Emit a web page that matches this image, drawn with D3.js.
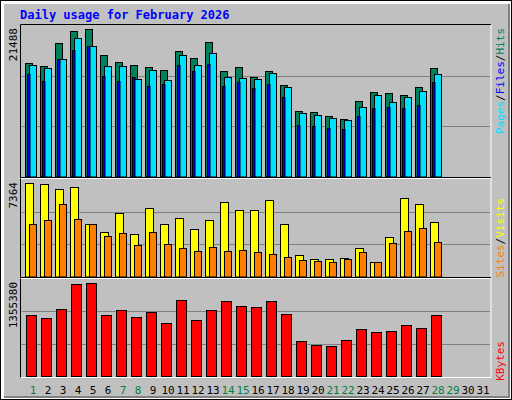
<!DOCTYPE html>
<html><head><meta charset="utf-8">
<script src="https://cdn.jsdelivr.net/npm/d3@7"></script>
<style>body{margin:0;background:#fff}text{font-family:"DejaVu Sans Mono",monospace}</style>
</head><body><div id="chart"></div>
<script>
const days = d3.range(1, 32);
const weekend = [1, 7, 8, 14, 15, 21, 22, 28, 29];
const hits = [16533,16096,19450,21199,21488,17700,16679,16242,15950,15513,18283,17262,19595,15367,15950,14493,15411,13326,9535,9390,8806,8369,10993,12305,12160,11868,13034,15804];
const files = [16242,15804,17117,20178,19012,16096,16096,14201,15513,14055,17700,16242,17991,14493,14347,14201,15076,13034,9244,8952,8515,8223,10118,11868,10847,11577,12451,14930];
const pages = [14930,13909,17117,18429,19012,14638,13909,14493,13180,13472,16242,15367,16388,13180,13763,12889,13472,11577,7494,7348,7057,6911,8806,9973,10118,9973,10410,13763];
const visits = [7364,7284,6886,7045,4096,3539,4973,3379,5372,4096,4575,3778,4415,5850,5212,5236,6057,4144,1674,1355,1355,1435,2232,1116,3108,6216,5738,4304];
const sites = [4171,4411,5687,4490,4171,3214,3453,2496,3533,2576,2257,2018,2337,2018,2098,1938,1779,1539,1300,1220,1140,1380,1938,1140,2656,3613,3852,2736];
const kbytes = [882426,838083,971112,1340637,1355380,882426,956331,852864,926769,778959,1104141,823302,956331,1089360,1015455,1000674,1089360,897207,512901,453777,438996,527682,690273,645930,660711,749397,705054,882426];

const W = 512, H = 400;
const svg = d3.select("#chart").append("svg").attr("width", W).attr("height", H);

// frame
svg.append("rect").attr("width", W).attr("height", H).attr("fill", "#000");
svg.append("rect").attr("x", 1).attr("y", 1).attr("width", W - 2).attr("height", H - 2).attr("fill", "#fff");
svg.append("rect").attr("x", 4).attr("y", 4).attr("width", W - 6).attr("height", H - 6).attr("fill", "#808080");
svg.append("rect").attr("x", 4).attr("y", 4).attr("width", W - 8).attr("height", H - 8).attr("fill", "#c0c0c0");

svg.append("text").attr("x", 20).attr("y", 19)
  .attr("font-size", 12).attr("font-weight", "bold").attr("fill", "#0000ff")
  .text("Daily usage for February 2026");

const x = d3.scaleBand().domain(days).range([23, 488]);

// plot outline
const L = 20.5, R = 491;
svg.append("rect").attr("x", L).attr("y", 24.5).attr("width", R - L).attr("height", 353)
  .attr("fill", "#c0c0c0").attr("stroke", "#fff");
svg.append("path").attr("d", `M${L},${377.5}V24.5H${R}`).attr("fill", "none").attr("stroke", "#000");
[179, 279].forEach(y => {
  svg.append("line").attr("x1", L).attr("x2", R).attr("y1", y - 1.5).attr("y2", y - 1.5).attr("stroke", "#000");
  svg.append("line").attr("x1", L).attr("x2", R).attr("y1", y - 0.5).attr("y2", y - 0.5).attr("stroke", "#fff");
});

function panel(top, base, max, maxLabel) {
  const y = d3.scaleLinear().domain([0, max]).range([base, top + 4]);
  const g = svg.append("g");
  const h = base - top;
  [1 / 3, 2 / 3].forEach(f => {
    g.append("line").attr("x1", L + 1).attr("x2", R - 1)
      .attr("y1", Math.round(top + h * f) + 0.5).attr("y2", Math.round(top + h * f) + 0.5)
      .attr("stroke", "#808080").attr("stroke-width", 1);
  });
  svg.append("text").attr("transform", `translate(17,${top + 3}) rotate(-90)`)
    .attr("text-anchor", "end").attr("font-size", 11).attr("fill", "#000").text(maxLabel);
  return y;
}

function bars(data, y, base, dx, w, color) {
  svg.append("g").selectAll("rect").data(data).join("rect")
    .attr("x", (d, i) => x(i + 1) + dx + 0.5)
    .attr("y", d => Math.round(y(d)) + 0.5)
    .attr("width", w)
    .attr("height", d => base - Math.round(y(d)))
    .attr("fill", color).attr("stroke", "#000");
}

// top panel
const yT = panel(25, 176.5, 21488, "21488");
bars(hits, yT, 176.5, 2, 7, "#00805c");
bars(files, yT, 176.5, 6, 7, "#00e0ff");
bars(pages, yT, 176.5, 4, 2.5, "#0000ff");

// middle panel
const yM = panel(179, 276.5, 7364, "7364");
bars(visits, yM, 276.5, 2, 8, "#ffff00");
bars(sites, yM, 276.5, 6, 7, "#ff8000");

// bottom panel
const yB = panel(279, 376, 1355380, "1355380");
bars(kbytes, yB, 376, 3, 10, "#ff0000");

// day labels
svg.append("g").selectAll("text").data(days).join("text")
  .attr("x", d => x(d) + 10).attr("y", 394).attr("text-anchor", "middle")
  .attr("font-size", 11).attr("fill", d => weekend.includes(d) ? "#008040" : "#000")
  .text(d => d);

// right legends
function legend(yEnd, parts) {
  const t = svg.append("text").attr("transform", `translate(504,${yEnd}) rotate(-90)`)
    .attr("text-anchor", "end").attr("font-size", 11);
  parts.forEach(([s, c]) => t.append("tspan").attr("fill", c).text(s));
}
legend(28, [["Pages", "#00e0ff"], ["/", "#000"], ["Files", "#0000ff"], ["/", "#000"], ["Hits", "#00805c"]]);
legend(198, [["Sites", "#ff8000"], ["/", "#000"], ["Visits", "#ffff00"]]);
legend(341, [["KBytes", "#ff0000"]]);
</script></body></html>
